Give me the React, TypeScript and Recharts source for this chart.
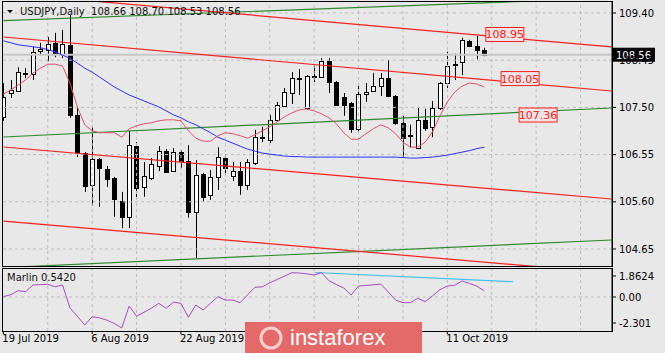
import React from "react";
import {
  ComposedChart,
  Bar,
  Line,
  XAxis,
  YAxis,
  ReferenceLine,
  ReferenceDot,
} from "recharts";

// daily bars, 19 Jul 2019 .. 18 Oct 2019
const OPEN = [
  107.31, 107.79, 107.83, 108.2, 108.17, 108.64, 108.66, 108.8, 108.58, 108.76,
  107.35, 106.58, 105.94, 106.46, 106.26, 106.08, 105.62, 105.3, 106.72, 105.9,
  106.08, 106.32, 106.62, 106.22, 106.6, 106.42, 105.4, 106.16, 105.74, 106.1,
  106.48, 106.12, 106.22, 105.94, 106.38, 106.91, 106.84, 107.25, 107.53, 107.79,
  108.09, 107.49, 108.11, 108.11, 108.43, 108.01, 107.71, 107.59, 107.07, 107.77,
  107.83, 107.93, 108.09, 107.73, 107.19, 106.95, 106.68, 107.25, 107.11, 107.49,
  107.99, 108.37, 108.41, 108.84, 108.74, 108.66,
];
const HIGH = [
  107.99, 108.05, 108.31, 108.29, 108.72, 108.8, 108.92, 109.0, 109.06, 109.36,
  107.49, 106.6, 107.11, 106.48, 106.32, 106.1, 105.8, 107.03, 106.8, 106.4,
  106.48, 106.72, 106.66, 106.68, 106.64, 106.74, 106.44, 106.18, 106.24, 106.7,
  106.56, 106.4, 106.4, 106.46, 107.05, 107.11, 107.35, 107.61, 107.89, 108.21,
  108.27, 108.15, 108.35, 108.49, 108.49, 108.03, 107.79, 107.61, 107.99, 107.99,
  108.19, 108.19, 108.45, 107.75, 107.33, 107.15, 107.49, 107.47, 107.63, 108.01,
  108.62, 108.58, 108.9, 108.86, 108.94, 108.7,
];
const LOW = [
  107.23, 107.69, 107.81, 108.09, 108.05, 108.55, 108.43, 108.51, 108.49, 107.29,
  106.5, 105.8, 105.52, 105.5, 105.9, 105.3, 105.07, 105.07, 105.66, 105.7,
  106.04, 106.22, 106.18, 106.2, 106.28, 105.28, 104.47, 105.6, 105.64, 105.84,
  106.14, 106.02, 105.74, 105.84, 106.34, 106.8, 106.78, 107.21, 107.51, 107.57,
  107.75, 107.45, 108.01, 108.09, 107.79, 107.53, 107.33, 106.99, 107.01, 107.61,
  107.81, 107.73, 107.71, 107.15, 106.5, 106.7, 106.66, 107.03, 106.9, 107.45,
  107.89, 108.05, 108.15, 108.72, 108.47, 108.53,
];
const CLOSE = [
  107.71, 107.85, 108.21, 108.17, 108.62, 108.68, 108.78, 108.6, 108.78, 107.35,
  106.6, 105.92, 106.46, 106.28, 106.06, 105.66, 105.3, 106.74, 105.88, 106.12,
  106.36, 106.62, 106.2, 106.6, 106.42, 105.4, 106.14, 105.7, 106.1, 106.5,
  106.28, 106.22, 105.94, 106.4, 106.9, 106.89, 107.25, 107.55, 107.81, 108.09,
  108.07, 108.13, 108.13, 108.43, 108.01, 107.55, 107.55, 107.07, 107.77, 107.81,
  107.93, 108.09, 107.73, 107.19, 106.88, 106.94, 107.25, 107.09, 107.49, 107.99,
  108.33, 108.36, 108.86, 108.74, 108.66, 108.56,
];
const MA_FAST = [
  107.77, 107.85, 107.95, 108.05, 108.19, 108.29, 108.37, 108.37, 108.33, 107.99,
  107.51, 107.15, 107.03, 106.99, 106.99, 106.99, 106.9, 107.07, 107.13, 107.17,
  107.19, 107.23, 107.25, 107.25, 107.23, 107.03, 106.88, 106.82, 106.82, 106.93,
  106.99, 106.97, 106.93, 106.88, 106.95, 107.03, 107.11, 107.21, 107.31, 107.39,
  107.45, 107.47, 107.43, 107.37, 107.29, 107.17, 106.99, 106.86, 106.86, 106.97,
  107.07, 107.15, 107.09, 106.97, 106.8, 106.7, 106.7, 106.8, 107.01, 107.33,
  107.61, 107.81, 107.93, 107.99, 107.97, 107.91,
];
const MA_SLOW = [
  108.84, 108.8, 108.76, 108.74, 108.72, 108.7, 108.66, 108.62, 108.55, 108.49,
  108.39, 108.29, 108.21, 108.11, 108.01, 107.91, 107.83, 107.75, 107.69, 107.63,
  107.57, 107.51, 107.43, 107.35, 107.29, 107.21, 107.15, 107.07, 106.99, 106.9,
  106.84, 106.78, 106.72, 106.66, 106.62, 106.58, 106.56, 106.54, 106.52, 106.51,
  106.51, 106.5, 106.5, 106.5, 106.5, 106.5, 106.5, 106.5, 106.5, 106.5,
  106.5, 106.5, 106.5, 106.5, 106.49, 106.48, 106.48, 106.49, 106.5, 106.52,
  106.54, 106.57, 106.6, 106.63, 106.67, 106.7,
];
const MARLIN = [
  0.03, 0.2, 0.56, 0.47, 1.06, 1.1, 1.12, 0.91, 1.06, -0.97,
  -1.7, -2.48, -1.74, -1.85, -2.05, -2.35, -2.74, -0.8, -1.7, -1.35,
  -1.0, -0.56, -1.0, -0.45, -0.56, -1.8, -0.71, -1.15, -0.55, 0.03,
  -0.27, -0.27, -0.5, 0.2, 0.86, 0.9, 1.25, 1.55, 1.85, 2.15,
  2.12, 2.05, 1.95, 2.15, 1.44, 1.1, 0.8, 0.18, 0.97, 1.02,
  1.08, 1.15, 0.45, -0.27, -0.5, -0.5, -0.12, -0.41, 0.1, 0.65,
  0.97, 1.04, 1.42, 1.2, 0.95, 0.54,
];

const PRICE_TICKS = [104.65, 105.6, 106.55, 107.5, 108.45, 109.4];
const OSC_TICKS = [-2.301, 0, 1.8624];
const DATE_TICKS = [0, 12, 24, 60];
const DATE_LABELS = ["19 Jul 2019", "6 Aug 2019", "22 Aug 2019", "11 Oct 2019"];
const GRID_X = [6, 12, 18, 24, 30, 36, 42, 48, 54, 60, 66, 72, 78];
const LAST_PRICE = 108.56;

// trend lines as [bar1, price1, bar2, price2]
const RED_LINES = [
  [0, 109.8, 82.2, 108.716],
  [0, 108.917, 82.2, 107.83],
  [0, 106.703, 82.2, 105.656],
  [0, 105.213, 82.2, 104.167],
];
const GREEN_LINES = [
  [0, 109.247, 82.2, 109.7],
  [0, 106.904, 82.2, 107.488],
  [0, 104.275, 82.2, 104.831],
];
const MARLIN_TREND = [42.1, 2.17, 68.9, 1.35];
const NOTE_BARS = [65.2, 67.26, 69.69];
const NOTE_PRICES = [108.967, 108.08, 107.347];
const NOTE_TEXTS = ["108.95", "108.05", "107.36"];

const X_DOMAIN: [number, number] = [-0.05, 82.25];
const FONT = "DejaVu Sans";
const BG = "#e8e8e8";
const GRID = "#bdbdbd";
const RED = "#ff2020";
const GREEN = "#2f8a2f";

const data = OPEN.map((o, i) => ({
  i,
  o,
  h: HIGH[i],
  l: LOW[i],
  c: CLOSE[i],
  range: [LOW[i], HIGH[i]],
  fast: MA_FAST[i],
  slow: MA_SLOW[i],
  marlin: MARLIN[i],
}));

const Candle = (props: any) => {
  const { x, y, width, height, payload } = props;
  if (x == null || !payload) return null;
  const top = Math.min(y, y + height);
  const h = Math.abs(height);
  const k = h / (payload.h - payload.l || 1);
  const cx = Math.round(x + width / 2);
  const bodyTop = top + (payload.h - Math.max(payload.o, payload.c)) * k;
  const bodyBot = top + (payload.h - Math.min(payload.o, payload.c)) * k;
  const bull = payload.c > payload.o;
  return (
    <g>
      <line x1={cx + 0.5} y1={top} x2={cx + 0.5} y2={top + h} stroke="#000" />
      <rect
        x={cx - 1.5}
        y={Math.round(bodyTop) + 0.5}
        width={4}
        height={Math.max(1, Math.round(bodyBot - bodyTop))}
        fill={bull ? "#fff" : "#000"}
        stroke="#000"
      />
    </g>
  );
};

const NoteBox = (text: string) => (props: any) => {
  const { cx, cy } = props;
  return (
    <g>
      <rect x={cx} y={cy - 7} width={38} height={14} fill="#f1e4e4" stroke={RED} />
      <text x={cx + 19} y={cy + 4} textAnchor="middle" fontSize={11} fontFamily={FONT} fill={RED}>
        {text}
      </text>
    </g>
  );
};

const LastPriceLabel = (props: any) => {
  const vb = props.viewBox || {};
  const x = vb.x + vb.width + 1;
  return (
    <g>
      <rect x={x} y={vb.y - 7} width={42} height={14} fill="#000" />
      <text x={x + 3} y={vb.y + 4} fontSize={10} fontFamily={FONT} fill="#fff">
        {LAST_PRICE.toFixed(2)}
      </text>
    </g>
  );
};

const DateTick = (props: any) => {
  const { x, y, payload } = props;
  const idx = DATE_TICKS.indexOf(payload.value);
  return (
    <text x={x - 1} y={y} dy="0.71em" fontSize={10} fontFamily={FONT} fill="#000">
      {DATE_LABELS[idx]}
    </text>
  );
};

const frame = (top: number, height: number): React.CSSProperties => ({
  position: "absolute",
  left: 2,
  top,
  width: 611,
  height,
  border: "1px solid #000",
  boxSizing: "border-box",
  pointerEvents: "none",
});

export default function App() {
  return (
    <div
      style={{
        position: "absolute",
        left: 0,
        top: 0,
        width: 665,
        height: 353,
        background: BG,
        fontFamily: FONT,
        overflow: "hidden",
      }}
    >
      <div style={{ position: "absolute", left: 0, top: 0 }}>
        <ComposedChart width={665} height={268} data={data} margin={{ top: 2, right: 0, left: 3, bottom: 2 }}>
          <XAxis dataKey="i" type="number" domain={X_DOMAIN} allowDataOverflow hide />
          <YAxis
            orientation="right"
            width={53}
            domain={[104.308, 109.621]}
            allowDataOverflow
            ticks={PRICE_TICKS}
            interval={0}
            tickFormatter={(v: number) => v.toFixed(2)}
            tick={{ fontSize: 10, fill: "#000", fontFamily: FONT }}
            tickSize={4}
            tickMargin={3}
            axisLine={{ stroke: "#000" }}
            tickLine={{ stroke: "#000" }}
          />
          {PRICE_TICKS.map((p) => (
            <ReferenceLine key={"h" + p} y={p} stroke={GRID} strokeDasharray="3 3" />
          ))}
          {GRID_X.map((g) => (
            <ReferenceLine key={"v" + g} x={g} stroke={GRID} strokeDasharray="3 3" />
          ))}
          <ReferenceLine y={LAST_PRICE} stroke="#c8c8c8" strokeWidth={2} label={<LastPriceLabel />} />
          {GREEN_LINES.map((s, k) => (
            <ReferenceLine
              key={"g" + k}
              segment={[{ x: s[0], y: s[1] }, { x: s[2], y: s[3] }]}
              stroke={GREEN}
              strokeWidth={1.2}
              ifOverflow="hidden"
            />
          ))}
          {RED_LINES.map((s, k) => (
            <ReferenceLine
              key={"r" + k}
              segment={[{ x: s[0], y: s[1] }, { x: s[2], y: s[3] }]}
              stroke={RED}
              strokeWidth={1.2}
              ifOverflow="hidden"
            />
          ))}
          <Line dataKey="slow" stroke="#2f2fff" strokeWidth={1} dot={false} isAnimationActive={false} />
          <Line dataKey="fast" stroke="#e4506a" strokeWidth={1} dot={false} isAnimationActive={false} />
          <Bar dataKey="range" barSize={5} shape={<Candle />} isAnimationActive={false} />
          {NOTE_TEXTS.map((t, k) => (
            <ReferenceDot
              key={"n" + k}
              x={NOTE_BARS[k]}
              y={NOTE_PRICES[k]}
              r={0}
              shape={NoteBox(t)}
              ifOverflow="visible"
            />
          ))}
        </ComposedChart>
      </div>

      <div style={{ position: "absolute", left: 0, top: 268 }}>
        <ComposedChart width={665} height={85} data={data} margin={{ top: 0, right: 0, left: 3, bottom: 0 }}>
          <XAxis
            dataKey="i"
            type="number"
            domain={X_DOMAIN}
            allowDataOverflow
            ticks={DATE_TICKS}
            interval={0}
            tick={<DateTick />}
            tickSize={3}
            tickMargin={1}
            height={22}
            axisLine={false}
            tickLine={{ stroke: "#000" }}
          />
          <YAxis
            orientation="right"
            width={53}
            domain={[-3.009, 2.566]}
            allowDataOverflow
            ticks={OSC_TICKS}
            interval={0}
            tickFormatter={(v: number) => (v === 0 ? "0.00" : String(v))}
            tick={{ fontSize: 10, fill: "#000", fontFamily: FONT }}
            tickSize={4}
            tickMargin={3}
            axisLine={{ stroke: "#000" }}
            tickLine={{ stroke: "#000" }}
          />
          <ReferenceLine y={0} stroke={GRID} strokeDasharray="3 3" />
          {GRID_X.map((g) => (
            <ReferenceLine key={"ov" + g} x={g} stroke={GRID} strokeDasharray="3 3" />
          ))}
          <ReferenceLine
            segment={[{ x: MARLIN_TREND[0], y: MARLIN_TREND[1] }, { x: MARLIN_TREND[2], y: MARLIN_TREND[3] }]}
            stroke="#40bff0"
            strokeWidth={1.2}
            ifOverflow="visible"
          />
          <Line dataKey="marlin" stroke="#a84cc0" strokeWidth={1} dot={false} isAnimationActive={false} />
        </ComposedChart>
      </div>

      <div style={frame(1, 266)} />
      <div style={frame(268, 64)} />

      <svg style={{ position: "absolute", left: 0, top: 0 }} width={20} height={20}>
        <polygon points="7,10 13,10 10,13" fill="#000" />
      </svg>
      <div style={{ position: "absolute", left: 20, top: 6, fontSize: 10, lineHeight: "12px", color: "#111", whiteSpace: "pre" }}>
        {"USDJPY,Daily  108.66 108.70 108.53 108.56"}
      </div>
      <div style={{ position: "absolute", left: 7, top: 272, fontSize: 10, lineHeight: "12px", color: "#111" }}>
        Marlin 0.5420
      </div>

      <div
        style={{
          position: "absolute",
          left: 245,
          top: 322,
          width: 177,
          height: 31,
          background: "#e46a6a",
          color: "#fff",
          display: "flex",
          alignItems: "center",
        }}
      >
        <svg width={44} height={31}>
          <circle cx={26} cy={16} r={10} fill="none" stroke="#f6d0d0" strokeWidth={3} />
        </svg>
        <span style={{ fontFamily: "Liberation Sans Narrow, Liberation Sans", fontSize: 22, marginLeft: 1 }}>
          instaforex
        </span>
      </div>
    </div>
  );
}
